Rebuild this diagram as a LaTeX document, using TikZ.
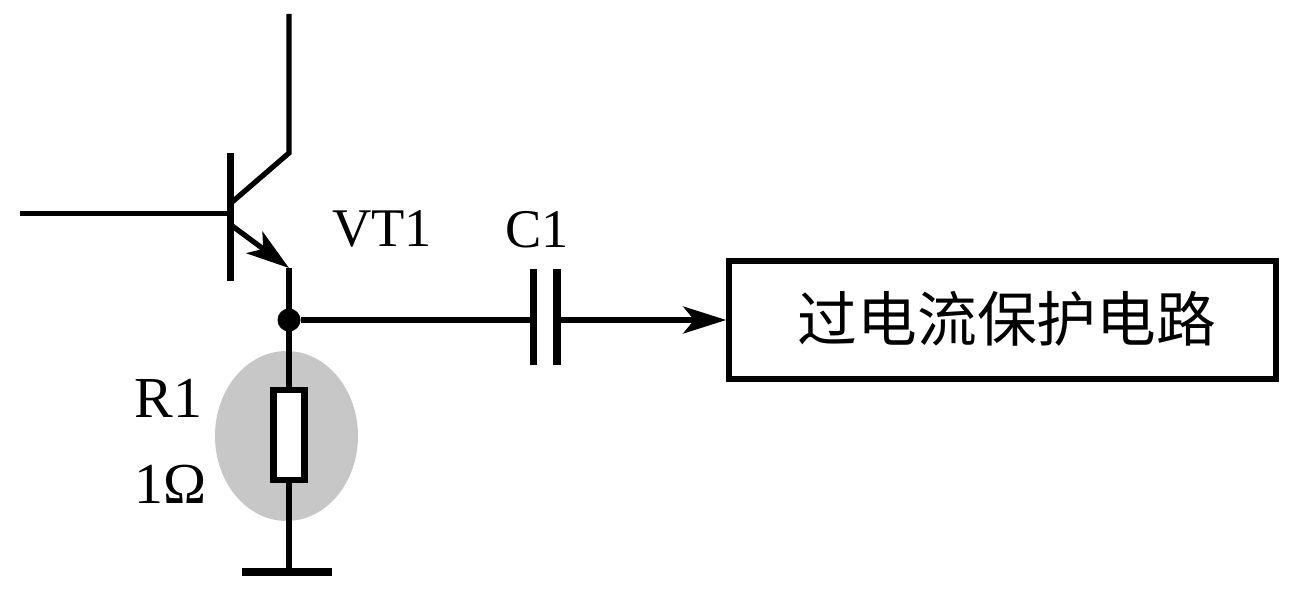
\documentclass[tikz,border=0pt]{standalone}
\usepackage{fontspec}
\setmainfont{Liberation Serif}
\newfontfamily\cjkfont{Noto Sans CJK SC}
\usetikzlibrary{arrows.meta,shapes.geometric}
\tikzset{
  wire/.style={line width=0.105cm},
  heavy/.style={line width=0.145cm},
  tip/.style={-{Stealth[length=0.86cm,width=0.54cm,inset=0.22cm]}},
  lbl/.style={inner sep=0pt,anchor=base west,font=\fontsize{31}{31}\selectfont},
  rlbl/.style={lbl,font=\fontsize{33}{33}\selectfont}
}

\begin{document}
\begin{tikzpicture}[x=0.02cm,y=-0.02cm]
  \useasboundingbox (0,0) rectangle (1299,591);
  \node[ellipse,fill=black!22,minimum width=2.86cm,minimum height=3.4cm,inner sep=0pt] (halo) at (286.5,436) {};
  \coordinate (basein) at (20,213.5);
  \coordinate (basec) at (230.5,213.5);
  \coordinate (baset) at (230.5,153);
  \coordinate (baseb) at (230.5,281);
  \coordinate (colin) at (231,203);
  \coordinate (colk) at (289,153);
  \coordinate (coltop) at (289,14);
  \coordinate (emin) at (231,225);
  \coordinate (emk) at (289,268);
  \node[circle,fill=black,minimum size=0.46cm,inner sep=0pt,outer sep=0pt] (junc) at (289,320) {};
  \node[rectangle,draw,line width=0.13cm,fill=white,minimum width=0.62cm,minimum height=1.8cm,inner sep=0pt] (r1) at (289,435) {};
  \coordinate (gnd) at (289,571.5);
  \coordinate (gndl) at (242,571.5);
  \coordinate (gndr) at (332,571.5);
  \coordinate (capl) at (533.5,320);
  \coordinate (capr) at (557,320);
  \node[rectangle,draw,line width=0.115cm,minimum width=10.94cm,minimum height=2.36cm,inner sep=0pt] (prot) at (1002.5,320) {};
  % transistor
  \draw[heavy] (baset) -- (baseb);
  \draw[wire] (basein) -- (basec);
  \draw[wire] (coltop) -- (colk) -- (colin);
  \draw[wire,tip] (emin) -- (emk);
  \draw[wire] (emk) -- (junc);
  % resistor and ground
  \draw[wire] (junc) -- (r1);
  \draw[wire] (r1) -- (gnd);
  \draw[line width=0.16cm] (gndl) -- (gndr);
  % capacitor and output
  \draw[wire] (junc) -- (capl);
  \draw[heavy] (533.5,269) -- (533.5,365);
  \draw[heavy] (557,269) -- (557,365);
  \draw[wire,tip] (capr) -- (prot);
  % labels
  \node[lbl] (vt1) at (332,247) {VT1};
  \node[lbl] (c1) at (505,248) {C1};
  \node[rlbl] (r1name) at (134,418) {R1};
  \node[rlbl] (r1val) at (134,503) {1Ω};
  \node[inner sep=0pt,font=\cjkfont\fontsize{34}{34}\selectfont] (prottext) at (1007,319) {过电流保护电路};
\end{tikzpicture}
\end{document}
